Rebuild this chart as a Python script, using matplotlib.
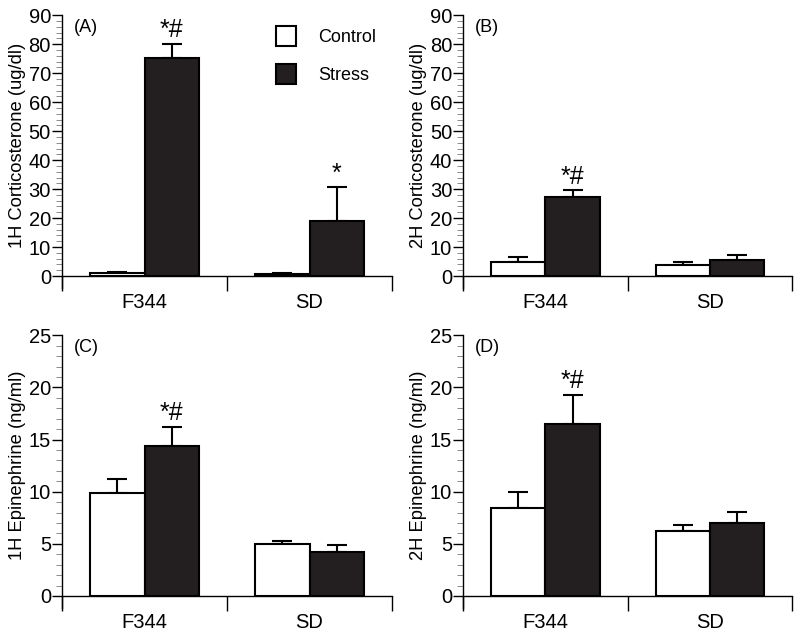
import numpy as np
import matplotlib
matplotlib.use("Agg")
import matplotlib.pyplot as plt
from matplotlib.ticker import MultipleLocator, FixedLocator

plt.rcParams['font.family'] = ['Liberation Sans', 'DejaVu Sans']

# Dati
gruppi = ["F344", "SD"]
serie = ["Control", "Stress"]

cort1h_control = [0.9, 0.7]
cort1h_control_err = [0.6, 0.5]
cort1h_stress = [75.4, 19.0]
cort1h_stress_err = [4.8, 11.6]
cort1h_sig = ["*#", "*"]

cort2h_control = [4.9, 3.9]
cort2h_control_err = [1.5, 0.8]
cort2h_stress = [27.3, 5.6]
cort2h_stress_err = [2.4, 1.6]
cort2h_sig = ["*#", ""]

epi1h_control = [9.85, 4.95]
epi1h_control_err = [1.4, 0.35]
epi1h_stress = [14.4, 4.25]
epi1h_stress_err = [1.85, 0.6]
epi1h_sig = ["*#", ""]

epi2h_control = [8.4, 6.2]
epi2h_control_err = [1.6, 0.65]
epi2h_stress = [16.45, 7.0]
epi2h_stress_err = [2.85, 1.05]
epi2h_sig = ["*#", ""]

COL_STRESS = "#231f20"
LW = 1.5


def disegna_pannello(ax, ctrl, ctrl_err, stress, stress_err, sig, ymax, major, minor,
                     ylabel, lettera):
    centri = np.array([0.5, 1.5])
    w = 0.33
    ax.bar(centri - w / 2, ctrl, width=w, color="white", edgecolor="black",
           linewidth=LW, label=serie[0], zorder=3)
    ax.bar(centri + w / 2, stress, width=w, color=COL_STRESS, edgecolor="black",
           linewidth=LW, label=serie[1], zorder=3)
    for x, v, e in zip(centri - w / 2, ctrl, ctrl_err):
        ax.errorbar(x, v, yerr=[[0], [e]], fmt="none", ecolor="black",
                    elinewidth=LW, capsize=7.5, capthick=LW, zorder=2)
    for x, v, e in zip(centri + w / 2, stress, stress_err):
        ax.errorbar(x, v, yerr=[[0], [e]], fmt="none", ecolor="black",
                    elinewidth=LW, capsize=7.5, capthick=LW, zorder=2)
    for x, v, e, s in zip(centri + w / 2, stress, stress_err, sig):
        if s:
            ax.text(x, v + e + ymax * 0.005, s, ha="center", va="bottom",
                    fontsize=18)

    ax.set_xlim(0, 2)
    ax.set_ylim(0, ymax)
    ax.spines["top"].set_visible(False)
    ax.spines["right"].set_visible(False)
    ax.spines["left"].set_linewidth(1.0)
    ax.spines["bottom"].set_linewidth(1.0)
    ax.spines["left"].set_bounds(-ymax * 0.045, ymax)

    ax.yaxis.set_major_locator(MultipleLocator(major))
    ax.yaxis.set_minor_locator(MultipleLocator(minor))
    ax.tick_params(axis="y", which="major", length=7, width=1.0, labelsize=14.5,
                   direction="out", pad=1)
    ax.tick_params(axis="y", which="minor", length=4, width=0.6, color="#777777")

    ax.xaxis.set_major_locator(FixedLocator([0, 1, 2]))
    ax.xaxis.set_major_formatter(plt.NullFormatter())
    ax.xaxis.set_minor_locator(FixedLocator(centri))
    ax.set_xticklabels(gruppi, minor=True)
    ax.tick_params(axis="x", which="major", length=11, width=1.0, direction="out")
    ax.tick_params(axis="x", which="minor", length=0, labelsize=14.5, pad=12)

    ax.set_ylabel(ylabel, fontsize=13.2, labelpad=2)
    ax.text(0.036, 0.985, lettera, transform=ax.transAxes, fontsize=13,
            ha="left", va="top")


fig = plt.figure(figsize=(8, 6.36), dpi=100)
ax_a = fig.add_axes([0.0775, 0.566, 0.4125, 0.41])
ax_b = fig.add_axes([0.579, 0.566, 0.411, 0.41])
ax_c = fig.add_axes([0.0775, 0.0629, 0.4125, 0.41])
ax_d = fig.add_axes([0.579, 0.0629, 0.411, 0.41])

disegna_pannello(ax_a, cort1h_control, cort1h_control_err, cort1h_stress,
                 cort1h_stress_err, cort1h_sig, 90, 10, 2,
                 "1H Corticosterone (ug/dl)", "(A)")
disegna_pannello(ax_b, cort2h_control, cort2h_control_err, cort2h_stress,
                 cort2h_stress_err, cort2h_sig, 90, 10, 2,
                 "2H Corticosterone (ug/dl)", "(B)")
disegna_pannello(ax_c, epi1h_control, epi1h_control_err, epi1h_stress,
                 epi1h_stress_err, epi1h_sig, 25, 5, 1,
                 "1H Epinephrine (ng/ml)", "(C)")
disegna_pannello(ax_d, epi2h_control, epi2h_control_err, epi2h_stress,
                 epi2h_stress_err, epi2h_sig, 25, 5, 1,
                 "2H Epinephrine (ng/ml)", "(D)")

ax_a.legend(loc="upper left", bbox_to_anchor=(0.6, 1.02), frameon=False,
            fontsize=13, handlelength=1.1, handleheight=1.3,
            handletextpad=1.2, labelspacing=1.0)

fig.savefig("out.png", dpi=100)
